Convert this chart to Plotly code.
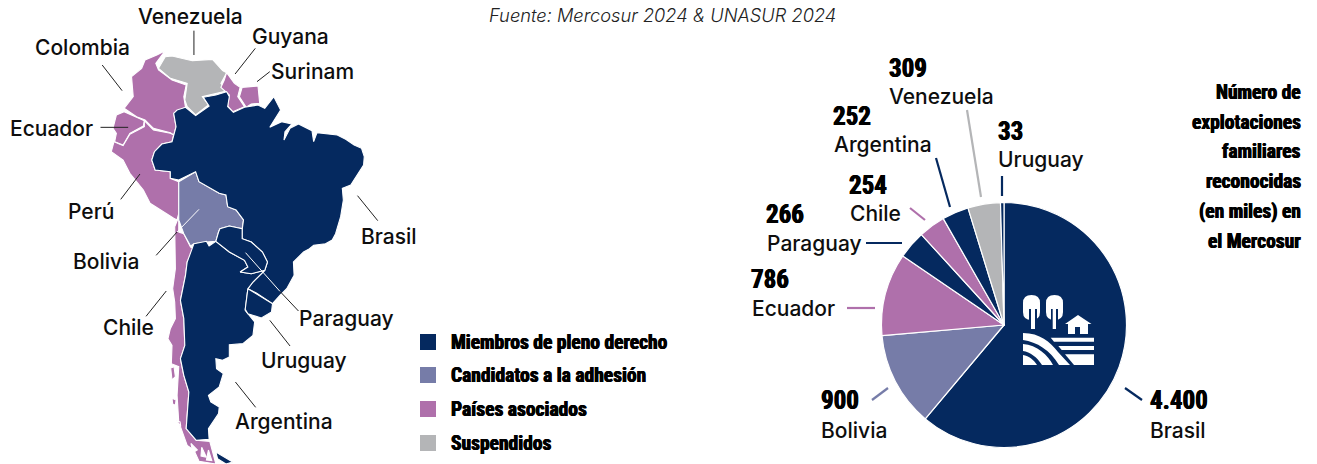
import plotly.graph_objects as go

W, H = 1317, 464
NAVY, SLATE, MAUVE, GREY = "#05295F", "#767CA8", "#AF70AB", "#B4B5B7"
INK = "#0E0E0E"
BODY = "Inter"
HEAVY = "Roboto Condensed"
BOLDEN = "0.45px 0 0 #000, -0.45px 0 0 #000"

# ---- pie data
pie_names = ["Brasil", "Bolivia", "Ecuador", "Paraguay", "Chile", "Argentina", "Venezuela", "Uruguay"]
pie_values = [4400, 900, 786, 266, 254, 252, 309, 33]
pie_value_labels = ["4.400", "900", "786", "266", "254", "252", "309", "33"]
pie_colors = [NAVY, SLATE, MAUVE, NAVY, MAUVE, NAVY, GREY, NAVY]
pie_number_xy = [(1149, 400), (820, 400), (750, 279), (765, 214), (848, 185), (832, 116), (888, 68), (997, 131)]
pie_name_xy = [(1149, 430), (820, 430), (751, 308), (766, 243), (849, 213), (833, 144), (888, 96), (997, 159)]
pie_leaders = [((1125, 388), (1142, 400)), ((872, 400), (888, 388)), ((847, 308), (875, 308)),
               ((866, 243), (902, 243)), ((910, 208), (925, 220)), ((936, 158), (950, 207)),
               ((967, 110), (981, 197)), ((1002, 176), (1002, 196))]

title_lines = ["Número de", "explotaciones", "familiares", "reconocidas", "(en miles) en", "el Mercosur"]
title_ys = [92, 122, 151, 181, 211, 241]

legend_names = ["Miembros de pleno derecho", "Candidatos a la adhesión", "Países asociados", "Suspendidos"]
legend_colors = [NAVY, SLATE, MAUVE, GREY]
legend_ys = [342, 375, 409, 443]

# ---- map outlines, in map units
colombia = [(490,152),(465,165),(430,180),(420,205),(390,230),(395,290),(368,325),(405,350),(430,360),(455,385),(505,398),(515,405),(510,425),(522,380),(515,340),(550,322),(545,290),(552,255),(510,240),(470,210),(462,190)]
venezuela = [(470,205),(490,170),(510,168),(570,182),(630,178),(660,212),(672,218),(655,250),(675,272),(640,280),(600,290),(618,315),(580,345),(555,320),(548,300),(555,250),(505,235)]
guyana = [(672,218),(695,250),(712,262),(705,290),(725,320),(690,335),(675,318),(680,285),(655,262),(665,240)]
surinam = [(718,262),(765,258),(770,310),(745,312),(730,322),(710,290)]
ecuador = [(345,345),(368,335),(405,352),(428,362),(425,378),(385,400),(365,435),(340,425),(345,400),(335,385)]
peru = [(428,362),(455,390),(505,400),(515,405),(510,425),(480,432),(458,455),(450,480),(460,510),(505,515),(505,535),(530,545),(530,640),(525,660),(515,655),(445,610),(425,570),(385,520),(365,480),(330,455),(338,425),(365,437),(385,403),(428,380)]
brasil = [(525,330),(550,322),(580,347),(620,318),(603,292),(640,285),(672,275),(680,290),(675,320),(692,337),(725,322),(745,318),(765,315),(785,325),(812,290),(832,330),(820,350),(800,382),(835,365),(865,372),(845,395),(842,420),(860,385),(885,372),(925,392),(930,425),(940,398),(1000,405),(1025,418),(1050,435),(1072,445),(1080,470),(1078,495),(1060,525),(1040,555),(1015,565),(1018,600),(1010,650),(1000,680),(995,701),(985,720),(965,731),(930,736),(915,748),(900,756),(870,786),(872,826),(850,866),(830,886),(808,911),(760,879),(735,866),(750,846),(785,811),(793,786),(778,756),(745,726),(718,716),(718,690),(722,660),(700,630),(675,620),(670,585),(650,580),(590,545),(580,515),(530,540),(505,535),(505,515),(460,510),(450,480),(458,455),(480,432),(510,425),(522,380),(515,340)]
bolivia = [(530,545),(580,515),(590,545),(650,580),(670,585),(675,620),(700,630),(722,660),(718,686),(680,678),(652,686),(648,696),(640,724),(612,726),(575,731),(565,738),(545,701),(530,660),(530,640)]
paraguay = [(652,686),(680,678),(718,686),(718,716),(745,726),(778,756),(793,786),(785,811),(745,821),(712,816),(735,801),(725,781),(680,756),(640,724),(648,696)]
uruguay = [(735,866),(760,881),(808,911),(805,936),(775,954),(735,941),(727,928)]
argentina = [(575,731),(612,724),(620,738),(640,724),(680,756),(725,781),(735,801),(712,816),(745,821),(785,811),(750,846),(735,866),(727,931),(755,966),(750,1006),(720,1031),(680,1034),(680,1071),(660,1081),(640,1076),(642,1106),(662,1121),(650,1161),(618,1186),(625,1206),(650,1221),(648,1241),(618,1286),(620,1318),(582,1321),(552,1286),(560,1176),(545,1126),(535,1076),(548,1036),(545,956),(535,901),(550,826),(555,786)]
fuego_ar = [(640,1356),(690,1386),(670,1392),(645,1376)]
chile = [(530,650),(530,696),(545,701),(565,741),(575,746),(555,786),(550,826),(535,901),(545,956),(548,1036),(535,1076),(545,1126),(560,1176),(552,1286),(582,1321),(622,1324),(640,1392),(590,1384),(575,1350),(555,1336),(530,1266),(525,1186),(530,1100),(508,1091),(510,1036),(498,1016),(505,986),(520,956),(518,906),(512,866),(520,806),(518,706),(518,680)]
chile_isles = [[(506,1104),(516,1100),(520,1130),(510,1140)],[(510,1195),(522,1200),(520,1216),(512,1212)],[(524,1262),(534,1266),(536,1280)]]
chile_cuts = [[(566,1330),(585,1350),(572,1358)],[(598,1342),(612,1372),(596,1368)],[(618,1350),(628,1382),(612,1380)]]

map_blue = [brasil, argentina, paraguay, uruguay, fuego_ar]
map_pink = [colombia, guyana, surinam, ecuador, peru, chile] + chile_isles
map_slate = [bolivia]
map_grey = [venezuela]

map_labels = [("Venezuela", 137, 16), ("Guyana", 251, 36), ("Surinam", 270, 71), ("Colombia", 34, 47),
              ("Ecuador", 9, 128), ("Perú", 67, 211), ("Brasil", 360, 236), ("Bolivia", 72, 261),
              ("Chile", 102, 327), ("Paraguay", 298, 318), ("Uruguay", 260, 360), ("Argentina", 234, 421)]
black_leaders = [((575,92),(575,165)), ((757,145),(697,222)), ((800,215),(762,245)), ((303,195),(362,272)),
                 ((298,382),(380,382)), ((415,522),(358,598)), ((1060,587),(1120,662)), ((525,696),(463,766)),
                 ((493,873),(433,949)), ((830,874),(885,933)), ((800,961),(860,1038)), ((698,1146),(758,1222))]
white_leaders = [((590,628),(525,696)), ((728,758),(830,874))]

fig = go.Figure()
MAPAX = dict(xaxis="x2", yaxis="y2")

def poly(points, color):
    xs = [p[0] for p in points] + [points[0][0]]
    ys = [p[1] for p in points] + [points[0][1]]
    fig.add_trace(go.Scatter(x=xs, y=ys, mode="lines", fill="toself", fillcolor=color,
                             line=dict(color="white", width=1.1), hoverinfo="skip", showlegend=False, **MAPAX))

def lines(segs, color, width, **ax):
    xs, ys = [], []
    for a, b in segs:
        xs += [a[0], b[0], None]
        ys += [a[1], b[1], None]
    fig.add_trace(go.Scatter(x=xs, y=ys, mode="lines", line=dict(color=color, width=width),
                             hoverinfo="skip", showlegend=False, **ax))

for group, color in [(map_grey, GREY), (map_pink, MAUVE), (map_slate, SLATE), (map_blue, NAVY)]:
    for shape in group:
        poly(shape, color)
for shape in chile_cuts:
    poly(shape, "white")
lines(black_leaders, "#222222", 1, **MAPAX)
lines(white_leaders, "white", 1, **MAPAX)

# pie leaders
for (a, b), c in zip(pie_leaders, pie_colors):
    lines([(a, b)], c, 2.2)

# legend swatches
fig.add_trace(go.Scatter(x=[428] * 4, y=legend_ys, mode="markers",
                         marker=dict(symbol="square", size=16, color=legend_colors, line=dict(width=0)),
                         hoverinfo="skip", showlegend=False))

# pie
CX, CY, R = 1004, 325, 122.5
fig.add_trace(go.Pie(labels=pie_names, values=pie_values, sort=False, direction="clockwise", rotation=0,
                     marker=dict(colors=pie_colors, line=dict(color="white", width=1.2)),
                     textinfo="none", showlegend=False, automargin=False,
                     domain=dict(x=[(CX - R) / W, (CX + R) / W], y=[1 - (CY + R) / H, 1 - (CY - R) / H])))

ann = []
def text(s, x, y, size, family=BODY, weight=500, anchor="left", style="normal", color=INK, shadow=None):
    font = dict(family=family, size=size, weight=weight, style=style, color=color)
    if shadow:
        font["shadow"] = shadow
    ann.append(dict(text=s, x=x, y=y, xref="x", yref="y", xanchor=anchor, yanchor="middle", showarrow=False,
                    borderpad=0, font=font))

text("Fuente: Mercosur 2024 & UNASUR 2024", 488, 15, 18.25, weight=300, style="italic", color="#222222")
for s, x, y in map_labels:
    text(s, x, y, 21)
for s, (x, y) in zip(pie_names, pie_name_xy):
    text(s, x, y, 21)
for s, (x, y) in zip(pie_value_labels, pie_number_xy):
    text(s, x, y, 25, family=HEAVY, weight=700, color="#000000", shadow=BOLDEN)
for s, y in zip(title_lines, title_ys):
    text(s, 1302, y, 19.5, family=HEAVY, weight=700, anchor="right", color="#000000", shadow=BOLDEN)
for s, y in zip(legend_names, legend_ys):
    text(s, 450, y, 19.5, family=HEAVY, weight=700, color="#000000", shadow=BOLDEN)

# icon, shapes drawn on top of the pie, in this order
icon_layers = [
    ("white", "M1023,303 Q1023,295 1031.5,295 Q1040,295 1040,303 L1040,312 Q1040,320 1031.5,320 Q1023,320 1023,312 Z"),
    ("white", "M1046,303 Q1046,295 1054.5,295 Q1063,295 1063,303 L1063,312 Q1063,320 1054.5,320 Q1046,320 1046,312 Z"),
    (NAVY, "M1029,309 L1037,309 L1037,321 L1029,321 Z"),
    (NAVY, "M1051,309 L1058,309 L1058,321 L1051,321 Z"),
    ("white", "M1031,307 L1035,307 L1035,329 L1031,329 Z"),
    ("white", "M1052.7,307 L1056,307 L1056,329 L1052.7,329 Z"),
    ("white", "M1065,324 L1078,315 L1091.5,324 L1088,324 L1088,334 L1080,334 L1080,327 L1075,327 L1075,334 L1068,334 L1068,324 Z"),
    ("white", "M1050.7,337.7 L1094,337.7 L1094,341.7 L1054,341.7 Z"),
    ("white", "M1058.3,346 L1094,346 L1094,350 L1061.7,350 Z"),
    ("white", "M1065,354.3 L1094,354.3 L1094,365 L1074,365 Z"),
    ("white", "M1023,333 C1040,333 1050,342 1058,352 L1070,365 L1059,365 C1050,350 1037,342 1023,340 Z"),
    ("white", "M1023,344 C1037,345 1048,355 1053,365 L1042,365 C1037,357 1030,352 1023,351 Z"),
    ("white", "M1023,355 C1029,356 1034,360 1037,365 L1023,365 Z"),
]
shapes = [dict(type="path", path=p, xref="x", yref="y", layer="above", fillcolor=c, line=dict(width=0)) for c, p in icon_layers]

axis = dict(visible=False, fixedrange=True)
fig.update_layout(
    width=W, height=H, margin=dict(l=0, r=0, t=0, b=0), paper_bgcolor="white", plot_bgcolor="white",
    xaxis=dict(range=[0, W], domain=[0, 1], **axis), yaxis=dict(range=[H, 0], domain=[0, 1], **axis),
    xaxis2=dict(range=[0, W * 2.965], overlaying="x", **axis), yaxis2=dict(range=[H * 3, 0], overlaying="y", **axis),
    annotations=ann, shapes=shapes, showlegend=False, hovermode=False,
)
fig.write_html("out.html", config=dict(displayModeBar=False), post_script="document.body.style.margin='0';")
